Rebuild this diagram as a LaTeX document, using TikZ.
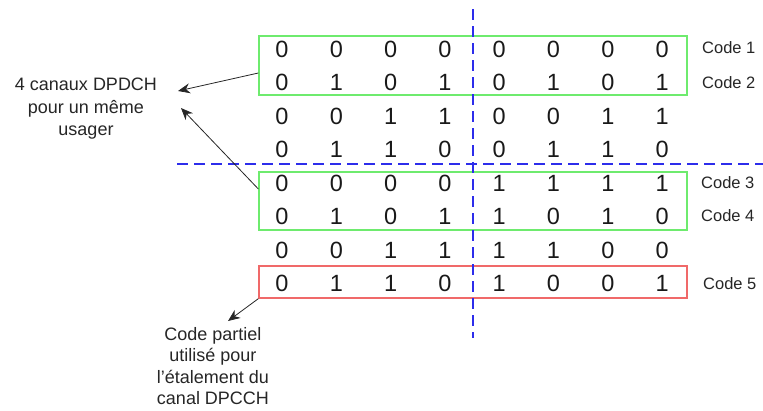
\documentclass[tikz,border=0pt]{standalone}
\usepackage{fontspec}
\setmainfont{Liberation Sans}
\usetikzlibrary{arrows.meta, positioning}

\definecolor{vertcode}{RGB}{110,235,110}
\definecolor{rougecode}{RGB}{240,105,105}
\definecolor{bleuaxe}{RGB}{45,45,235}

\begin{document}
\begin{tikzpicture}[>={Stealth[length=12pt,width=10pt]}, x=1pt, y=-1pt,
    chiffre/.style={font=\fontsize{23.5}{23.5}\selectfont, text=black!90, inner sep=0pt},
    etiquette/.style={font=\fontsize{16.5}{20}\selectfont, text=black!85, anchor=west, inner sep=0pt},
    note/.style={text=black!85, align=center, inner sep=0pt},
    cadre/.style={draw, line width=1.3pt, minimum width=428pt, inner sep=0pt},
    coupe/.style={bleuaxe, line width=1.3pt, dash pattern=on 11pt off 6pt},
    fleche/.style={->, line width=0.8pt, black!85}]

        \useasboundingbox (0,0) rectangle (763,410);

        % Variables base
        \def\xz{282}   % premiere colonne
        \def\dx{54.3}  % pas des colonnes
        \def\yz{49}    % premiere ligne
        \def\dy{33.5}  % pas des lignes

        % Matrice des codes (8 lignes de 8 bits)
        \foreach \ligne [count=\r] in {{0,0,0,0,0,0,0,0},{0,1,0,1,0,1,0,1},
                                      {0,0,1,1,0,0,1,1},{0,1,1,0,0,1,1,0},
                                      {0,0,0,0,1,1,1,1},{0,1,0,1,1,0,1,0},
                                      {0,0,1,1,1,1,0,0},{0,1,1,0,1,0,0,1}}{
            \foreach \b [count=\c] in \ligne {
                \node[chiffre] (b-\r-\c) at ({\xz+\dx*(\c-1)}, {\yz+\dy*(\r-1)}) {\b};
            }
        }

        % Cadres des codes retenus
        \node[cadre, draw=vertcode, minimum height=59pt] (cadre1) at (473,65.5) {};
        \node[cadre, draw=vertcode, minimum height=58pt] (cadre2) at (473,201) {};
        \node[cadre, draw=rougecode, minimum height=32pt] (cadre3) at (473,282) {};

        % Lignes de coupure
        \coordinate (haut) at (473,9);
        \coordinate (bas) at (473,338);
        \coordinate (gauche) at (177,164);
        \coordinate (droite) at (763,164);
        \draw[coupe] (haut) -- (bas);
        \draw[coupe] (gauche) -- (droite);

        % Noms des codes
        \node[etiquette] (code1) at (702,48) {Code 1};
        \node[etiquette] (code2) at (702,83) {Code 2};
        \node[etiquette] (code3) at (701,183) {Code 3};
        \node[etiquette] (code4) at (701,216) {Code 4};
        \node[etiquette] (code5) at (703,284) {Code 5};

        % Legendes
        \node[note, font=\fontsize{18}{22.5}\selectfont] (usager) at (86,109)
            {4 canaux DPDCH\\pour un même\\usager};
        \node[note, font=\fontsize{18}{21.5}\selectfont] (partiel) at (213,366)
            {Code partiel\\utilisé pour\\l’étalement du\\canal DPCCH};

        % Fleches vers les legendes
        \coordinate (p1) at (178,91);
        \coordinate (p2) at (181,108);
        \coordinate (p3) at (228,321);
        \draw[fleche] ([yshift=-7.5pt]cadre1.west) -- (p1);
        \draw[fleche] ([yshift=12pt]cadre2.west) -- (p2);
        \draw[fleche] (cadre3.south west) -- (p3);

\end{tikzpicture}
\end{document}
